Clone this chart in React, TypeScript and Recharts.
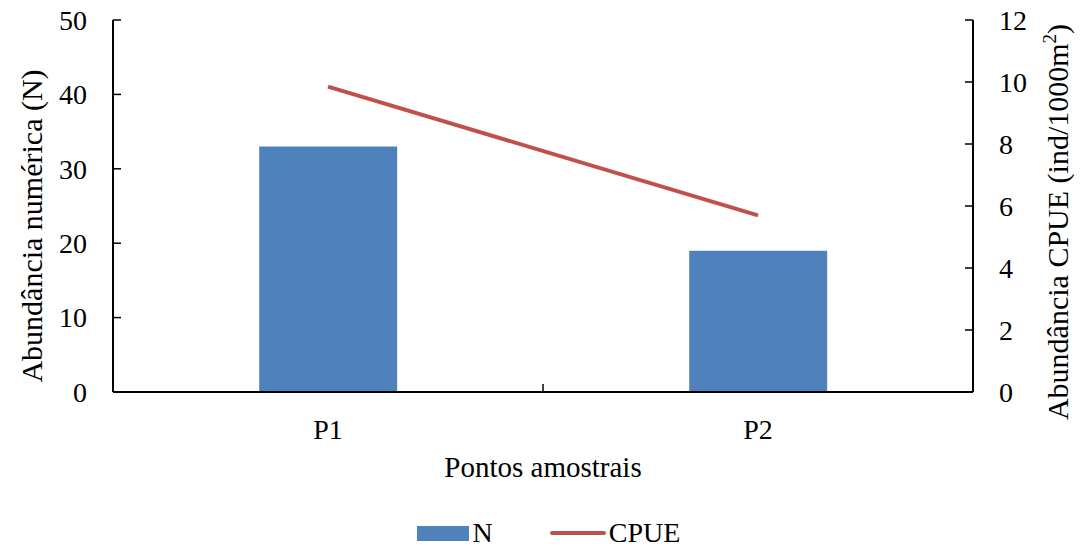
import React from "react";
import * as R from "recharts";

const { ComposedChart, Bar, Line, XAxis, YAxis, Legend, Label } = R;

const points = ["P1", "P2"];
const abundanceN = [33, 19];
const cpue = [9.85, 5.7];
const leftTicks = [0, 10, 20, 30, 40, 50];
const rightTicks = [0, 2, 4, 6, 8, 10, 12];

const FONT = "'Liberation Serif', 'Times New Roman', serif";
const FS = 28;
const TITLE_FS = 30;
const BLUE = "#4F81BD";
const RED = "#C0504D";
const INK = "#000000";
const GAP = 26; // tick label distance from axis line
const TICK = 8; // inward tick length

const txt = (size: number) => ({ fontFamily: FONT, fontSize: size, fill: INK }) as const;

const data = points.map((p, i) => ({ point: p, N: abundanceN[i], CPUE: cpue[i] }));

// Excel style: tick marks point into the plot
function LeftTick(p: any) {
    const ax = p.x + GAP;
    return (
        <g>
            <line x1={ax} x2={ax + TICK} y1={p.y} y2={p.y} stroke={INK} strokeWidth={1.5} />
            <text x={p.x} y={p.y} dy="0.35em" textAnchor="end" style={txt(FS)}>
                {p.payload.value}
            </text>
        </g>
    );
}

function RightTick(p: any) {
    const ax = p.x - GAP;
    return (
        <g>
            <line x1={ax} x2={ax - TICK} y1={p.y} y2={p.y} stroke={INK} strokeWidth={1.5} />
            <text x={p.x} y={p.y} dy="0.35em" textAnchor="start" style={txt(FS)}>
                {p.payload.value}
            </text>
        </g>
    );
}

function BottomTick(p: any) {
    return (
        <text x={p.x} y={p.y + 47} textAnchor="middle" style={txt(FS)}>
            {p.payload.value}
        </text>
    );
}

/** Ticks on the category boundaries, the way Excel draws them. */
function CategoryTicks() {
    const usePlotArea = (R as any).usePlotArea;
    const area = usePlotArea ? usePlotArea() : null;
    if (!area) return null;
    const step = area.width / points.length;
    const base = area.y + area.height;
    return (
        <g>
            {points.slice(1).map((_, i) => {
                const x = area.x + step * (i + 1);
                return <line key={i} x1={x} x2={x} y1={base} y2={base - TICK} stroke={INK} strokeWidth={1.5} />;
            })}
        </g>
    );
}

function LegendBox() {
    const text = { fontFamily: FONT, fontSize: FS, color: INK, lineHeight: "30px" } as const;
    return (
        <div style={{ display: "flex", justifyContent: "center", alignItems: "center", height: 30, paddingLeft: 12 }}>
            <span style={{ width: 52, height: 15, background: BLUE, marginRight: 4 }} />
            <span style={{ ...text, marginRight: 57 }}>N</span>
            <span style={{ width: 56, height: 4, borderRadius: 2, background: RED, marginRight: 3 }} />
            <span style={text}>CPUE</span>
        </div>
    );
}

export default function App() {
    return (
        <div
            style={{
                position: "absolute",
                left: 0,
                top: 0,
                width: 1085,
                height: 550,
                background: "#fff",
                fontFamily: FONT,
            }}
        >
            <ComposedChart
                width={1085}
                height={550}
                data={data}
                margin={{ top: 20, right: 0, left: 0, bottom: 2 }}
                barCategoryGap="34%"
                style={{ fontFamily: FONT }}
            >
                <XAxis
                    dataKey="point"
                    height={126}
                    tickSize={0}
                    tickMargin={0}
                    tick={BottomTick}
                    tickLine={false}
                    axisLine={{ stroke: INK, strokeWidth: 2 }}
                >
                    <Label
                        content={({ viewBox }: any) => (
                            <text
                                x={viewBox.x + viewBox.width / 2}
                                y={viewBox.y + 85}
                                textAnchor="middle"
                                style={txt(29)}
                            >
                                Pontos amostrais
                            </text>
                        )}
                    />
                </XAxis>
                <YAxis
                    yAxisId="left"
                    width={113}
                    domain={[0, 50]}
                    ticks={leftTicks}
                    interval={0}
                    tickSize={0}
                    tickMargin={GAP}
                    tick={LeftTick}
                    tickLine={false}
                    axisLine={{ stroke: INK, strokeWidth: 2 }}
                >
                    <Label
                        content={() => (
                            <text
                                transform="translate(42, 226) rotate(-90)"
                                textAnchor="middle"
                                style={txt(TITLE_FS)}
                            >
                                Abundância numérica (N)
                            </text>
                        )}
                    />
                </YAxis>
                <YAxis
                    yAxisId="right"
                    orientation="right"
                    width={112}
                    domain={[0, 12]}
                    ticks={rightTicks}
                    interval={0}
                    tickSize={0}
                    tickMargin={GAP}
                    tick={RightTick}
                    tickLine={false}
                    axisLine={{ stroke: INK, strokeWidth: 2 }}
                >
                    <Label
                        content={() => (
                            <text
                                transform="translate(1068, 222) rotate(-90)"
                                textAnchor="middle"
                                style={txt(TITLE_FS)}
                            >
                                Abundância CPUE (ind/1000m
                                <tspan dy={-12} style={{ fontSize: 19 }}>2</tspan>
                                <tspan dy={12}>)</tspan>
                            </text>
                        )}
                    />
                </YAxis>
                <Legend verticalAlign="bottom" content={LegendBox} />
                <Bar yAxisId="left" dataKey="N" fill={BLUE} isAnimationActive={false} />
                <Line
                    yAxisId="right"
                    dataKey="CPUE"
                    type="linear"
                    stroke={RED}
                    strokeWidth={4}
                    dot={false}
                    activeDot={false}
                    isAnimationActive={false}
                />
                <CategoryTicks />
            </ComposedChart>
        </div>
    );
}
